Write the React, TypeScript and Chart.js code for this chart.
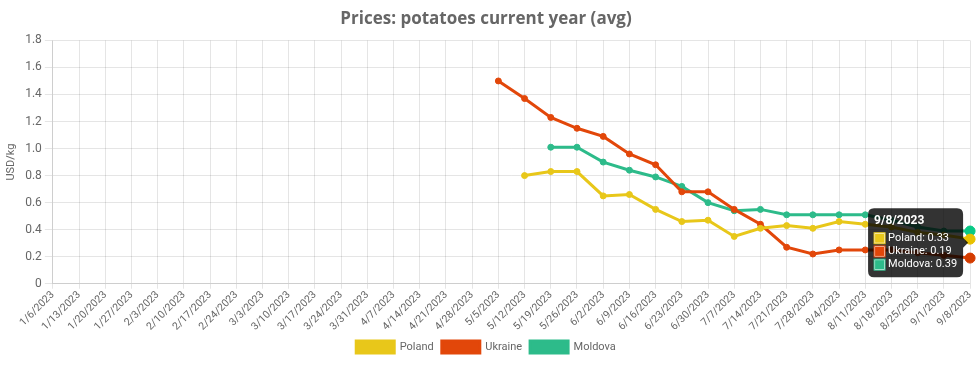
import React, { useEffect, useRef } from "react";
import { Chart, registerables } from "chart.js";

Chart.register(...registerables);

const categories = [
  "1/6/2023", "1/13/2023", "1/20/2023", "1/27/2023",
  "2/3/2023", "2/10/2023", "2/17/2023", "2/24/2023",
  "3/3/2023", "3/10/2023", "3/17/2023", "3/24/2023", "3/31/2023",
  "4/7/2023", "4/14/2023", "4/21/2023", "4/28/2023",
  "5/5/2023", "5/12/2023", "5/19/2023", "5/26/2023",
  "6/2/2023", "6/9/2023", "6/16/2023", "6/23/2023", "6/30/2023",
  "7/7/2023", "7/14/2023", "7/21/2023", "7/28/2023",
  "8/4/2023", "8/11/2023", "8/18/2023", "8/25/2023",
  "9/1/2023", "9/8/2023",
];

const N = null;
const poland = [
  N, N, N, N, N, N, N, N, N, N, N, N, N, N, N, N, N,
  N, 0.8, 0.83, 0.83, 0.65, 0.66, 0.55, 0.46, 0.47,
  0.35, 0.41, 0.43, 0.41, 0.46, 0.44, 0.42, 0.38, 0.36, 0.33,
];
const ukraine = [
  N, N, N, N, N, N, N, N, N, N, N, N, N, N, N, N, N,
  1.5, 1.37, 1.23, 1.15, 1.09, 0.96, 0.88, 0.68, 0.68,
  0.55, 0.44, 0.27, 0.22, 0.25, 0.25, 0.25, 0.23, 0.21, 0.19,
];
const moldova = [
  N, N, N, N, N, N, N, N, N, N, N, N, N, N, N, N, N,
  N, N, 1.01, 1.01, 0.9, 0.84, 0.79, 0.72, 0.6,
  0.54, 0.55, 0.51, 0.51, 0.51, 0.51, 0.47, 0.42, 0.39, 0.39,
];

const seriesNames = ["Poland", "Ukraine", "Moldova"];
const seriesColors = ["#E8C71A", "#E2470A", "#2DBB8A"];
const yTicks = [0, 0.2, 0.4, 0.6, 0.8, 1.0, 1.2, 1.4, 1.6, 1.8];

export default function App() {
  const ref = useRef<HTMLCanvasElement | null>(null);
  useEffect(() => {
    document.body.style.margin = "0";
    if (!ref.current) return;
    const values = [poland, ukraine, moldova];
    const chart = new Chart(ref.current, {
      type: "line",
      data: {
        labels: categories,
        datasets: values.map((v, i) => ({
          label: seriesNames[i],
          data: v,
          borderColor: seriesColors[i],
          backgroundColor: seriesColors[i],
          borderWidth: 3,
          pointRadius: 3,
          pointHoverRadius: 5,
          pointBorderWidth: 1,
          tension: 0,
          fill: false,
        })),
      },
      options: {
        animation: false,
        responsive: true,
        maintainAspectRatio: false,
        interaction: { mode: "index", intersect: false },
        layout: { padding: { left: 1, right: 8, top: 9, bottom: 2 } },
        plugins: {
          title: {
            display: true,
            text: "Prices: potatoes current year (avg)",
            color: "#666",
            font: { family: "'Open Sans', sans-serif", size: 17, weight: "bold" },
            padding: { top: 0, bottom: 11 },
          },
          legend: {
            position: "bottom",
            labels: {
              boxWidth: 38,
              boxHeight: 12,
              color: "#666",
              font: { family: "Roboto", size: 11 },
              padding: 8,
            },
          },
          tooltip: {
            backgroundColor: "rgba(0,0,0,0.8)",
            titleFont: { family: "Roboto", size: 12, weight: "bold" },
            titleMarginBottom: 3,
            bodyFont: { family: "Roboto", size: 11 },
            bodySpacing: 0,
            boxPadding: 1,
            padding: 6,
            caretSize: 5,
            cornerRadius: 6,
          },
        },
        scales: {
          x: {
            grid: { color: "rgba(0,0,0,0.1)", tickLength: 5 },
            ticks: {
              color: "#666",
              font: { family: "Roboto", size: 10.5 },
              maxRotation: 45,
              minRotation: 45,
              autoSkip: false,
              padding: 0,
            },
          },
          y: {
            min: 0,
            max: 1.8,
            grid: { color: "rgba(0,0,0,0.1)" },
            afterBuildTicks: (axis: any) => {
              axis.ticks = yTicks.map((v) => ({ value: v }));
            },
            ticks: {
              color: "#666",
              font: { family: "Roboto", size: 12 },
              callback: (v: any) => (v === 0 ? "0" : Number(v).toFixed(1)),
            },
            title: {
              display: true,
              text: "USD/kg",
              color: "#666",
              font: { family: "Roboto", size: 11 },
            },
          },
        },
      },
    });
    const last = categories.length - 1;
    const active = [0, 1, 2].map((d) => ({ datasetIndex: d, index: last }));
    chart.setActiveElements(active);
    const meta = chart.getDatasetMeta(1).data[last] as any;
    chart.tooltip?.setActiveElements(active, { x: meta.x, y: meta.y });
    chart.update();
    return () => chart.destroy();
  }, []);
  return (
    <div style={{ width: "979px", height: "365px", position: "relative" }}>
      <canvas ref={ref} />
    </div>
  );
}
